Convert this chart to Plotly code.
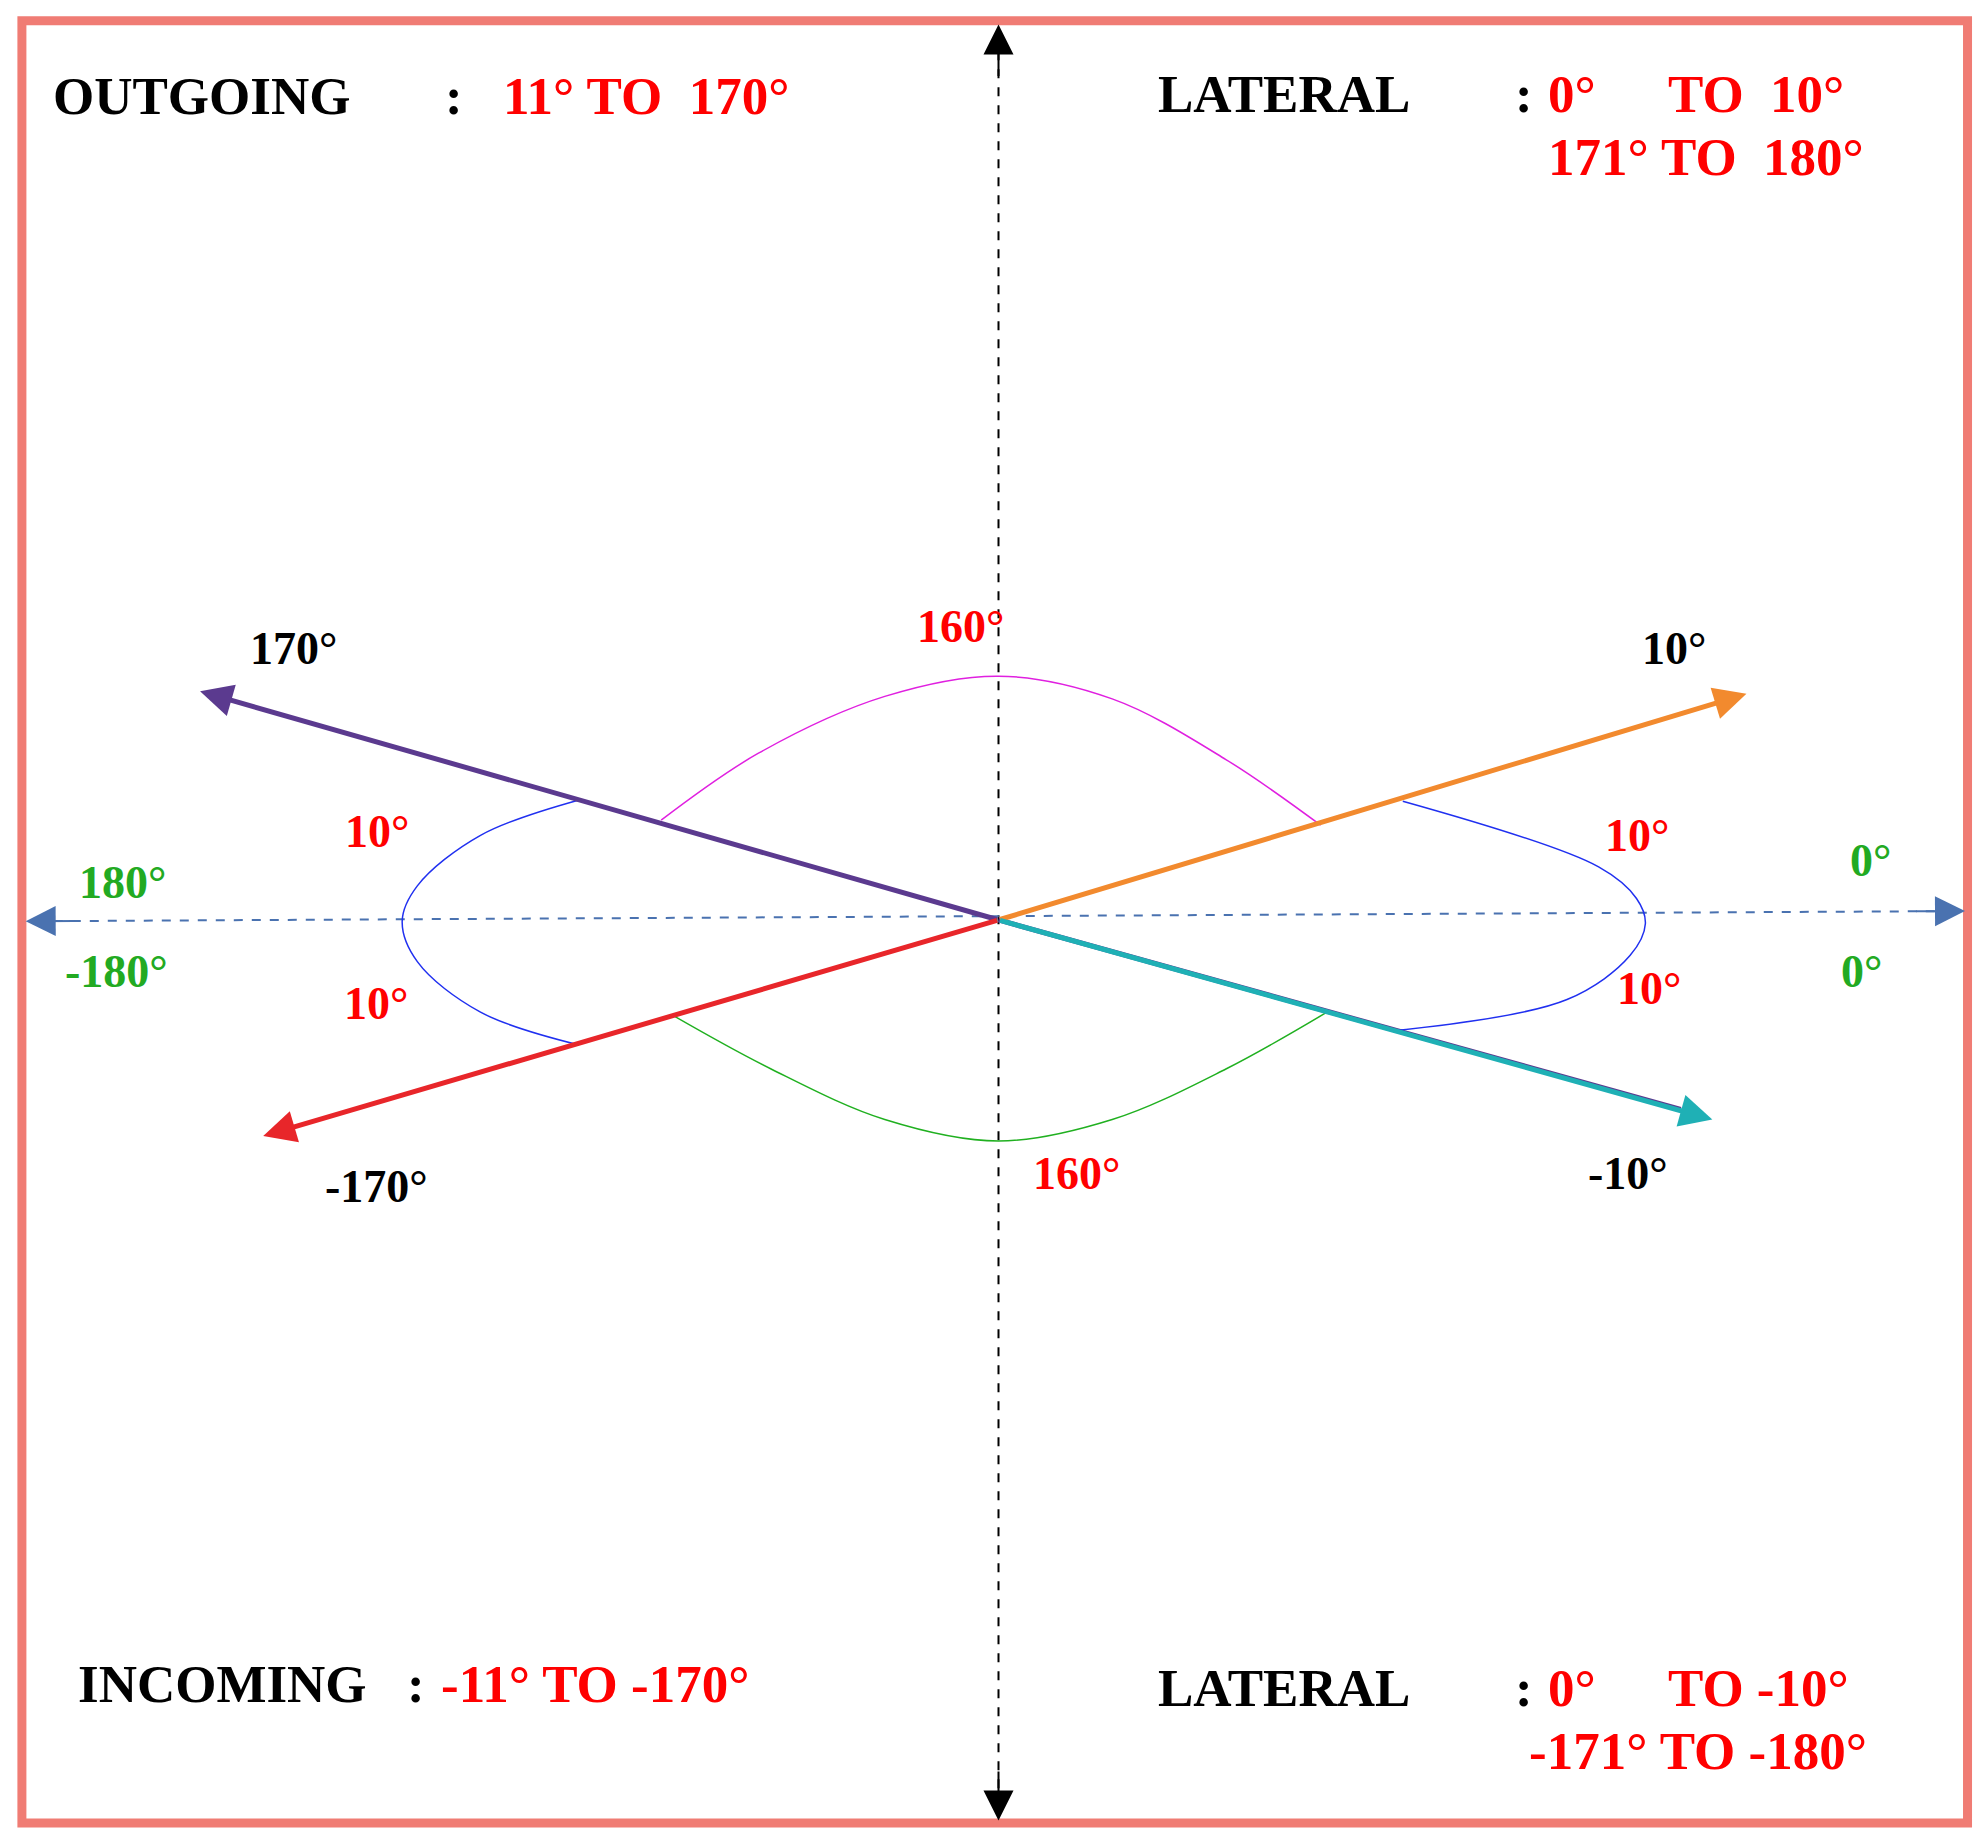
import plotly.graph_objects as go

W, H = 1568, 1452  # drawing units (scaled to 1981x1834 page)
center = (790, 727)

# direction arrows: name, tip x, tip y, color
arrow_names = ["170°", "10°", "-170°", "-10°"]
arrow_tips_x = [158, 1382, 208, 1355]
arrow_tips_y = [546, 548, 898, 885]
arrow_colors = ["#5b3a8f", "#f28a2e", "#e8262a", "#1fb0b5"]

# arcs
mag_x = [523, 600, 700, 790, 880, 970, 1045]
mag_y = [648, 595, 550, 534, 552, 600, 652]
grn_x = [533, 610, 700, 790, 880, 970, 1050]
grn_y = [803, 845, 885, 902, 885, 845, 800]
lblue_x = [458, 380, 330, 318, 330, 380, 458]
lblue_y = [632, 660, 700, 728, 760, 800, 826]
rblue_x = [1110, 1265, 1295, 1302, 1290, 1240, 1100]
rblue_y = [633, 685, 710, 730, 755, 790, 815]

# text labels
lab_text = ["170°", "10°", "160°", "10°", "10°", "180°", "-180°", "0°", "0°", "10°", "10°", "-170°", "160°", "-10°"]
lab_x = [232, 1325, 760, 298, 1295, 97, 92, 1480, 1473, 297, 1305, 298, 852, 1288]
lab_y = [512, 512, 495, 657, 660, 697, 768, 680, 768, 793, 781, 938, 928, 928]
lab_col = ["black", "black", "red", "red", "red", "#22aa22", "#22aa22", "#22aa22", "#22aa22", "red", "red", "black", "red", "black"]

fig = go.Figure()
FONT = "Liberation Serif"

fig.add_trace(go.Scatter(x=[790, 790], y=[25, 1432], mode="lines",
                         line=dict(color="black", width=2, dash="dash"), hoverinfo="skip"))
fig.add_trace(go.Scatter(x=[28, 1545], y=[728, 720], mode="lines",
                         line=dict(color="#4a72b0", width=2, dash="dash"), hoverinfo="skip"))
fig.add_trace(go.Scatter(x=[790, 1330], y=[727, 877], mode="lines",
                         line=dict(color="#5b3a8f", width=5), hoverinfo="skip"))

for xs, ys, c in [(mag_x, mag_y, "#e020e0"), (grn_x, grn_y, "#20b020"),
                  (lblue_x, lblue_y, "#2030f0"), (rblue_x, rblue_y, "#2030f0")]:
    fig.add_trace(go.Scatter(x=xs, y=ys, mode="lines", line=dict(color=c, width=1.5, shape="spline"),
                             hoverinfo="skip"))

ann = []
for tx, ty, c in zip(arrow_tips_x, arrow_tips_y, arrow_colors):
    ann.append(dict(x=tx, y=ty, ax=center[0], ay=center[1], xref="x", yref="y", axref="x", ayref="y",
                    showarrow=True, arrowhead=2, arrowsize=1.3, arrowwidth=5, arrowcolor=c, text=""))
for (tx, ty, sx, sy, c) in [(790, 18, 790, 60, "black"), (790, 1440, 790, 1400, "black"),
                            (20, 728, 60, 727.8, "#4a72b0"), (1555, 720, 1515, 720.2, "#4a72b0")]:
    ann.append(dict(x=tx, y=ty, ax=sx, ay=sy, xref="x", yref="y", axref="x", ayref="y",
                    showarrow=True, arrowhead=2, arrowsize=3, arrowwidth=2, arrowcolor=c, text=""))

for t, x, y, c in zip(lab_text, lab_x, lab_y, lab_col):
    ann.append(dict(x=x, y=y, xref="x", yref="y", text=f"<b>{t}</b>", showarrow=False,
                    font=dict(family=FONT, size=46, color=c)))

def txt(t, x, y, c, anchor="left"):
    ann.append(dict(x=x, y=y, xref="x", yref="y", text=f"<b>{t}</b>", showarrow=False, xanchor=anchor,
                    font=dict(family=FONT, size=53, color=c)))

txt("OUTGOING", 40, 75, "black"); txt(":", 350, 75, "black"); txt("11° TO  170°", 396, 75, "red")
txt("LATERAL", 915, 73, "black"); txt(":", 1197, 73, "black")
txt("0°", 1223, 73, "red"); txt("TO  10°", 1318, 73, "red"); txt("171° TO  180°", 1223, 123, "red")
txt("INCOMING", 60, 1332, "black"); txt(":", 320, 1332, "black"); txt("-11° TO -170°", 347, 1332, "red")
txt("LATERAL", 915, 1335, "black"); txt(":", 1197, 1335, "black")
txt("0°", 1223, 1335, "red"); txt("TO -10°", 1318, 1335, "red"); txt("-171° TO -180°", 1208, 1385, "red")

fig.update_layout(
    width=1981, height=1834, margin=dict(l=0, r=0, t=0, b=0),
    plot_bgcolor="white", paper_bgcolor="white", showlegend=False, annotations=ann,
    xaxis=dict(range=[6, W + 6], visible=False, fixedrange=True),
    yaxis=dict(range=[H + 5, 5], visible=False, fixedrange=True),
    shapes=[dict(type="rect", xref="x", yref="y", x0=17, y0=15, x1=1557, y1=1442,
                 line=dict(color="#f07c74", width=9))],
)
fig.write_html("out.html")
